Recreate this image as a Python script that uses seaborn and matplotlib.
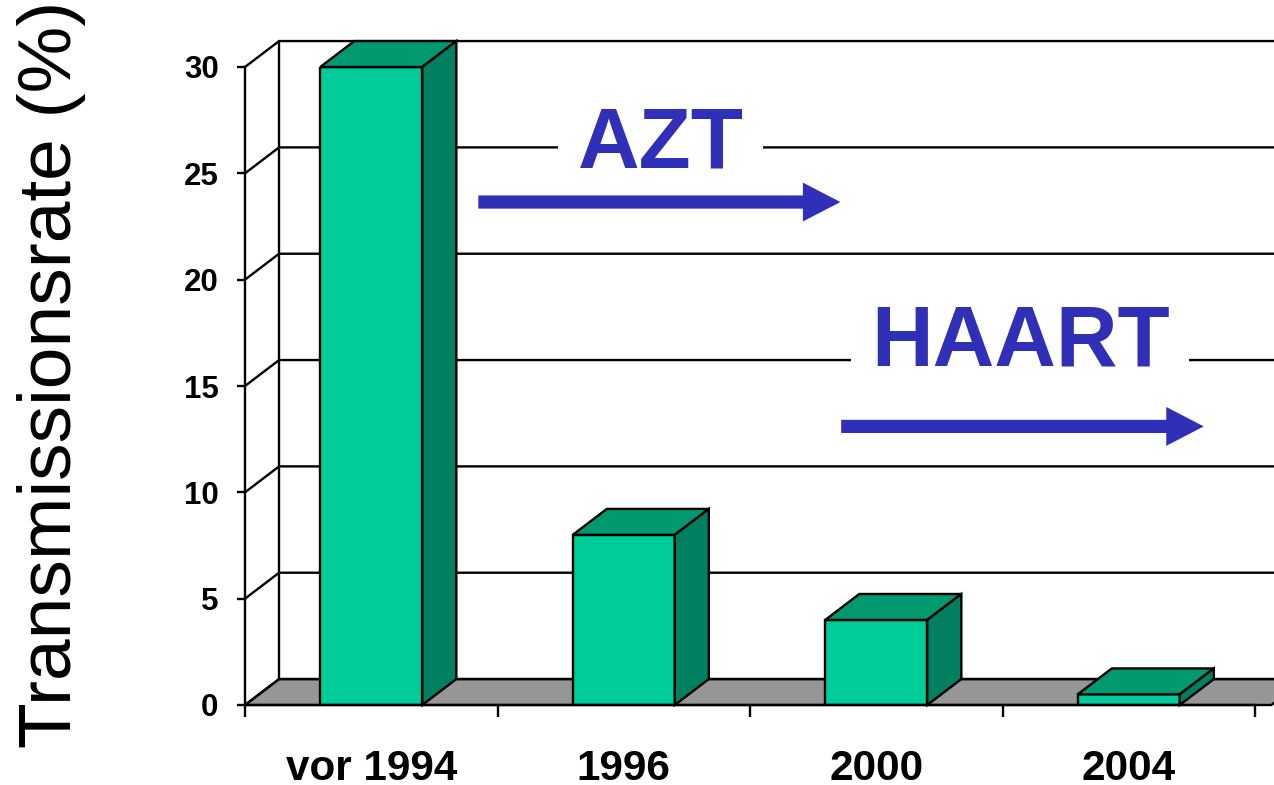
import numpy as np
import pandas as pd
import seaborn as sns
import matplotlib.pyplot as plt
from matplotlib.patches import Polygon, FancyArrowPatch

categories = ['vor 1994', '1996', '2000', '2004']
rates = [30, 8, 4, 0.5]
y_ticks = [0, 5, 10, 15, 20, 25, 30]

front_col = '#00CC99'
top_col = '#009970'
side_col = '#008060'
floor_col = '#969696'
blue = '#2F2FB8'

# depth of the fake 3d box, in data units
depth_x = 0.135
depth_y = 1.22
lw = 1.7

sns.set_theme(style='white')
plt.rcParams['font.family'] = ['Liberation Sans', 'DejaVu Sans']

fig = plt.figure(figsize=(12.74, 7.85), dpi=100)
ax = fig.add_axes([245 / 1274, 80 / 785, 1010 / 1274, 638 / 785])

df = pd.DataFrame({'year': categories, 'rate': rates})
sns.barplot(data=df, x='year', y='rate', color=front_col, saturation=1, width=0.404,
            edgecolor='black', linewidth=lw, ax=ax, zorder=4)
ax.set_xlim(-0.5, 3.5)
ax.set_ylim(0, 30)

# back wall, floor and grid
x_end = 3.7
ax.add_patch(Polygon([(-0.5, 0), (-0.5 + depth_x, depth_y), (x_end, depth_y), (x_end - depth_x, 0)],
                     closed=True, fc=floor_col, ec='black', lw=lw, clip_on=False, zorder=1))
ax.plot([-0.5 + depth_x] * 2, [depth_y, 30 + depth_y], color='black', lw=lw, clip_on=False, zorder=2)
for t in y_ticks:
    ax.plot([-0.5, -0.5 + depth_x, x_end], [t, t + depth_y, t + depth_y], color='black', lw=lw,
            clip_on=False, zorder=2)

# box top and side for each bar
for bar in ax.patches:
    if not hasattr(bar, 'get_width'):
        continue
    x0 = bar.get_x()
    x1 = x0 + bar.get_width()
    h = bar.get_height()
    ax.add_patch(Polygon([(x0, h), (x0 + depth_x, h + depth_y), (x1 + depth_x, h + depth_y), (x1, h)],
                         closed=True, fc=top_col, ec='black', lw=lw, clip_on=False, zorder=5))
    ax.add_patch(Polygon([(x1, 0), (x1 + depth_x, depth_y), (x1 + depth_x, h + depth_y), (x1, h)],
                         closed=True, fc=side_col, ec='black', lw=lw, clip_on=False, zorder=5))

sns.despine(ax=ax)
ax.spines['left'].set_color('black')
ax.spines['bottom'].set_color('black')
ax.spines['left'].set_linewidth(lw)
ax.spines['bottom'].set_linewidth(lw)
ax.spines['bottom'].set_zorder(6)

ax.set_xlabel('')
ax.set_ylabel('')
ax.set_yticks(y_ticks)
ax.set_xticks(np.arange(-0.5, 4), minor=True)
ax.tick_params(axis='x', which='major', length=0, pad=32, labelsize=30.4, labelcolor='black')
ax.tick_params(axis='x', which='minor', bottom=True, length=8.5, width=lw, color='black')
ax.tick_params(axis='y', left=True, length=6, width=lw, color='black', pad=13, labelsize=22.5, labelcolor='black')
for lab in ax.get_xticklabels() + ax.get_yticklabels():
    lab.set_fontweight('bold')

fig.text(52 / 1274, 37 / 785, 'Transmissionsrate (%)', rotation=90, ha='center', va='bottom',
         fontsize=54, color='black')

# treatment labels and arrows
ax.text(1.147, 26.3, 'AZT', color=blue, fontsize=61.5, fontweight='bold', ha='center', va='center', zorder=7,
        bbox=dict(fc='white', ec='none', pad=14))
ax.text(2.57, 16.98, 'HAART', color=blue, fontsize=61.5, fontweight='bold', ha='center', va='center', zorder=7,
        bbox=dict(fc='white', ec='none', pad=14))
style = 'simple,head_length=27,head_width=28,tail_width=9.5'
for start, end, y in [(0.424, 1.858, 23.65), (1.861, 3.297, 13.1)]:
    ax.add_patch(FancyArrowPatch((start, y), (end, y), arrowstyle=style, mutation_scale=1, shrinkA=0, shrinkB=0,
                                 fc=blue, ec='none', clip_on=False, zorder=8))

fig.savefig('out.png', dpi=100)
